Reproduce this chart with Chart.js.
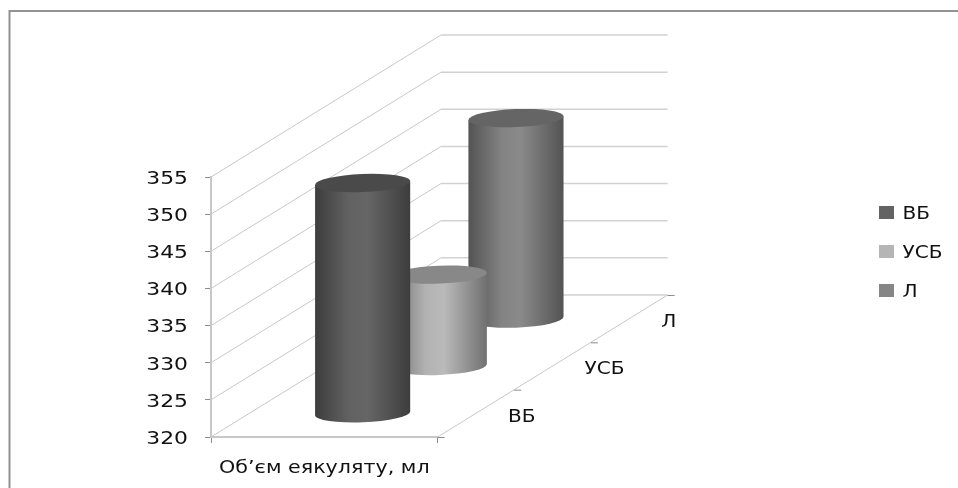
<!DOCTYPE html>
<html>
<head>
<meta charset="utf-8">
<title>Об'єм еякуляту</title>
<style>
    html, body { margin: 0; padding: 0; background: #ffffff; }
    canvas { display: block; }
</style>
<script src="https://cdn.jsdelivr.net/npm/chart.js@4"></script>
</head>
<body>
<canvas id="volume-chart" width="958" height="488"></canvas>
<script>
// Об'єм еякуляту по групах, циліндри на псевдо-3D підлозі

const categories = ["Об’єм еякуляту, мл"];
const groupNames = ["ВБ", "УСБ", "Л"];
const vbValues = [351];
const usbValues = [332.3];
const lValues = [347];
const groupColors = ["#636363", "#b5b5b5", "#868686"];

// Floor depth vector, from the front edge to the back wall
const DEPTH_X = 230;
const DEPTH_Y = -142;
const FONT = "'DejaVu Sans', sans-serif";

function depthOffset(fraction) {
    return { x: DEPTH_X * fraction, y: DEPTH_Y * fraction };
}

// Multiply a #rrggbb colour by a brightness factor
function shade(hex, factor) {
    const n = parseInt(hex.slice(1), 16);
    const part = (v) => Math.min(255, Math.round(v * factor));
    return `rgb(${part((n >> 16) & 255)},${part((n >> 8) & 255)},${part(n & 255)})`;
}

// All labels on this chart are set wide, so stretch text around its anchor
const canvas = document.getElementById("volume-chart");
const canvasCtx = canvas.getContext("2d");
const plainFillText = canvasCtx.fillText.bind(canvasCtx);
canvasCtx.fillText = function (text, x, y) {
    this.save();
    this.translate(x, y + 2);
    this.scale(1.18, 1);
    plainFillText(text, 0, 0);
    this.restore();
};

// Frame around the whole chart
const framePlugin = {
    id: "frame",
    beforeDraw(chart) {
        const ctx = chart.ctx;
        ctx.save();
        ctx.strokeStyle = "#929292";
        ctx.lineWidth = 2;
        ctx.beginPath();
        ctx.moveTo(9.5, 488);
        ctx.lineTo(9.5, 11);
        ctx.lineTo(958, 11);
        ctx.stroke();
        ctx.restore();
    },
};

// Side wall, back wall and floor, taken from the value scale ticks
const wallsPlugin = {
    id: "walls",
    afterLayout(chart) {
        // The legend sits away from the plot, level with the cylinders
        const legend = chart.legend;
        const width = legend.width;
        legend.left = 857;
        legend.right = 857 + width;
        legend.top = 182;
        legend.bottom = 182 + legend.height;
    },
    beforeDatasetsDraw(chart) {
        const { ctx, chartArea, scales } = chart;
        const back = depthOffset(1);
        ctx.save();
        ctx.lineWidth = 1;
        scales.y.ticks.forEach((tick) => {
            const y = scales.y.getPixelForValue(tick.value);
            ctx.strokeStyle = "#c8c8c8";
            ctx.beginPath();
            ctx.moveTo(chartArea.left, y);
            ctx.lineTo(chartArea.left + back.x, y + back.y);
            ctx.stroke();
            ctx.strokeStyle = "#d2d2d2";
            ctx.lineWidth = 1.5;
            ctx.beginPath();
            ctx.moveTo(chartArea.left + back.x, y + back.y);
            ctx.lineTo(chartArea.right + back.x, y + back.y);
            ctx.stroke();
            ctx.lineWidth = 1;
        });

        // Right floor edge with its category ticks and labels
        ctx.strokeStyle = "#c8c8c8";
        ctx.beginPath();
        ctx.moveTo(chartArea.right, chartArea.bottom);
        ctx.lineTo(chartArea.right + back.x, chartArea.bottom + back.y);
        ctx.stroke();

        ctx.strokeStyle = "#8c8c8c";
        for (let i = 0; i <= groupNames.length; i++) {
            const p = depthOffset(i / groupNames.length);
            const x = chartArea.right + p.x;
            const y = chartArea.bottom + p.y;
            ctx.beginPath();
            ctx.moveTo(x, y + 0.5);
            ctx.lineTo(x + 7, y + 0.5);
            ctx.stroke();
        }

        ctx.fillStyle = "#111111";
        ctx.font = "17px " + FONT;
        ctx.textAlign = "left";
        ctx.textBaseline = "middle";
        groupNames.forEach((name, i) => {
            const p = depthOffset((i + 0.5) / groupNames.length);
            ctx.fillText(name, chartArea.right + p.x + 32, chartArea.bottom + p.y + 2);
        });
        ctx.restore();
    },
};

function drawCylinder(ctx, cx, top, bottom, rx, color) {
    const ry = 9;
    const tilt = -0.04;
    const edgeX = rx * Math.cos(tilt);
    const edgeY = rx * Math.sin(tilt);

    const body = ctx.createLinearGradient(cx - rx, 0, cx + rx, 0);
    body.addColorStop(0, shade(color, 0.62));
    body.addColorStop(0.35, shade(color, 0.98));
    body.addColorStop(0.55, shade(color, 1.03));
    body.addColorStop(1, shade(color, 0.62));

    ctx.save();
    ctx.fillStyle = body;
    ctx.beginPath();
    ctx.ellipse(cx, bottom, rx, ry, tilt, 0, Math.PI, false);
    ctx.lineTo(cx - edgeX, top - edgeY);
    ctx.lineTo(cx + edgeX, top + edgeY);
    ctx.closePath();
    ctx.fill();

    ctx.fillStyle = shade(color, 0.75);
    ctx.beginPath();
    ctx.ellipse(cx, top, rx, ry, tilt, 0, Math.PI * 2);
    ctx.fill();
    ctx.restore();
}

// Each series stands in its own slot along the floor depth
const cylinderPlugin = {
    id: "cylinders",
    beforeDatasetDraw(chart, args) {
        const bar = chart.getDatasetMeta(args.index).data[0];
        const color = chart.data.datasets[args.index].backgroundColor;
        const p = depthOffset((args.index + 0.5) / chart.data.datasets.length);
        const floor = chart.scales.y.getPixelForValue(chart.scales.y.min);
        drawCylinder(chart.ctx, bar.x + p.x, bar.y + p.y, floor + p.y, bar.width / 2, color);
        return false;
    },
};

const seriesValues = [vbValues, usbValues, lValues];

new Chart(canvas, {
    type: "bar",
    data: {
        labels: categories,
        datasets: groupNames.map((name, i) => ({
            label: name,
            data: seriesValues[i],
            backgroundColor: groupColors[i],
        })),
    },
    plugins: [framePlugin, wallsPlugin, cylinderPlugin],
    options: {
        responsive: false,
        animation: false,
        events: [],
        layout: { padding: { left: 111, right: 431, top: 177, bottom: 0 } },
        datasets: { bar: { grouped: false, barPercentage: 0.42, categoryPercentage: 1 } },
        plugins: {
            tooltip: { enabled: false },
            title: { display: false },
            legend: {
                position: "right",
                align: "start",
                labels: {
                    boxWidth: 15,
                    boxHeight: 13,
                    padding: 22,
                    color: "#111111",
                    font: { family: FONT, size: 17 },
                },
            },
        },
        scales: {
            x: {
                offset: true,
                afterFit(scale) { scale.height = 51; },
                border: { color: "#c8c8c8", width: 2 },
                grid: { drawOnChartArea: false, offset: true, tickLength: 6, tickColor: "#8c8c8c" },
                ticks: { color: "#111111", maxRotation: 0, padding: 13, font: { family: FONT, size: 17.5 } },
            },
            y: {
                min: 320,
                max: 355,
                afterFit(scale) { scale.width = 100; },
                border: { color: "#c8c8c8", width: 2 },
                grid: { drawOnChartArea: false, tickLength: 6, tickColor: "#8c8c8c" },
                ticks: { stepSize: 5, color: "#111111", padding: 17, font: { family: FONT, size: 18.5 } },
            },
        },
    },
});
</script>
</body>
</html>
